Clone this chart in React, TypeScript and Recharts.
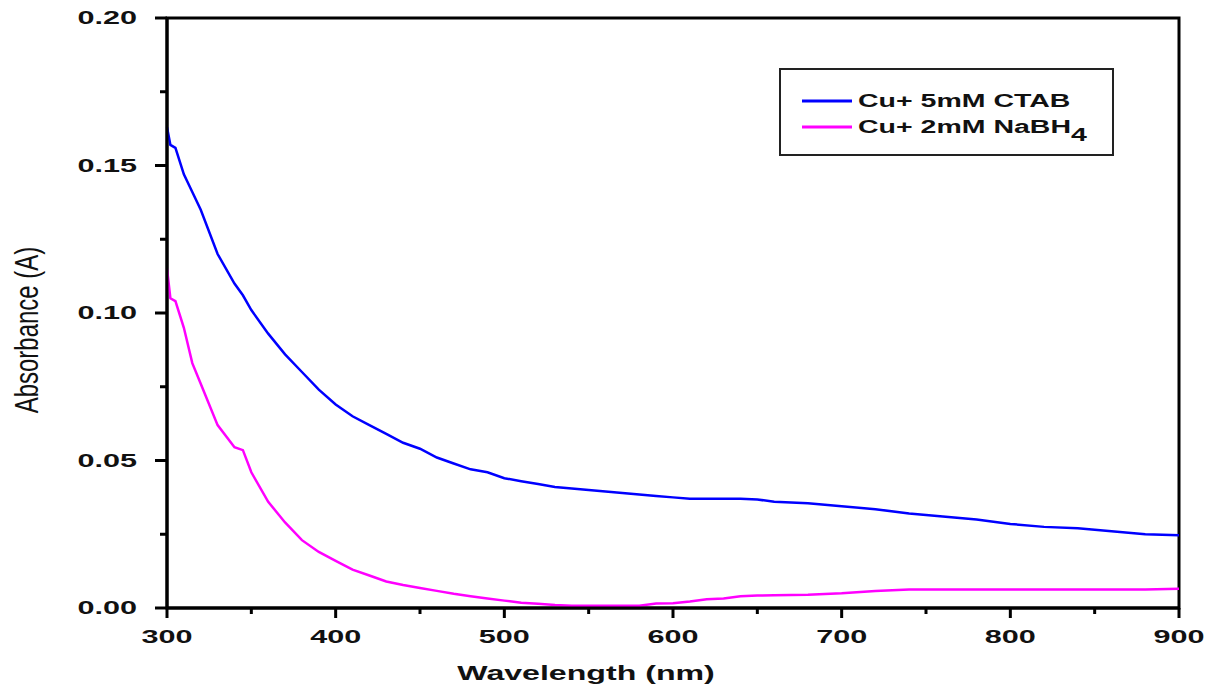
import { LineChart, Line, XAxis, YAxis, Legend, ReferenceArea } from "recharts";

// wavelength grid (nm)
const wavelengths = [
  300, 302, 305, 310, 315, 320, 330, 340, 345, 350,
  360, 370, 380, 390, 400, 410, 420, 430, 440, 450,
  460, 470, 480, 490, 500, 510, 520, 530, 540, 550,
  560, 570, 580, 590, 600, 610, 620, 630, 640, 650,
  660, 680, 700, 720, 740, 760, 780, 800, 820, 840,
  860, 880, 900,
];

// Cu + 5mM CTAB
const ctabAbs = [
  0.163, 0.157, 0.156, 0.147, 0.141, 0.135, 0.12, 0.11, 0.106, 0.101,
  0.093, 0.086, 0.08, 0.074, 0.069, 0.065, 0.062, 0.059, 0.056, 0.054,
  0.051, 0.049, 0.047, 0.046, 0.044, 0.043, 0.042, 0.041, 0.0405, 0.04,
  0.0395, 0.039, 0.0385, 0.038, 0.0375, 0.037, 0.037, 0.037, 0.037, 0.0368,
  0.036, 0.0355, 0.0345, 0.0335, 0.032, 0.031, 0.03, 0.0285, 0.0275, 0.027,
  0.026, 0.025, 0.0247,
];

// Cu + 2mM NaBH4
const nabh4Abs = [
  0.115, 0.105, 0.104, 0.095, 0.083, 0.076, 0.062, 0.0545, 0.0535, 0.046,
  0.036, 0.029, 0.023, 0.019, 0.016, 0.013, 0.011, 0.009, 0.0078, 0.0068,
  0.0058, 0.0048, 0.004, 0.0032, 0.0025, 0.0018, 0.0014, 0.001, 0.0008, 0.0008,
  0.0008, 0.0008, 0.0008, 0.0015, 0.0016, 0.0022, 0.003, 0.0032, 0.004, 0.0042,
  0.0043, 0.0045, 0.005, 0.0058, 0.0063, 0.0063, 0.0063, 0.0063, 0.0063, 0.0063,
  0.0063, 0.0063, 0.0065,
];

const seriesKeys = ["ctab", "nabh4"];
const xTicks = [300, 350, 400, 450, 500, 550, 600, 650, 700, 750, 800, 850, 900];
const xLabels = [300, 400, 500, 600, 700, 800, 900];
const yTicks = [0, 0.025, 0.05, 0.075, 0.1, 0.125, 0.15, 0.175, 0.2];
const yLabels = ["0.00", "0.05", "0.10", "0.15", "0.20"];

const data = wavelengths.map((nm, i) => ({ nm, ctab: ctabAbs[i], nabh4: nabh4Abs[i] }));

const FONT = "'Liberation Sans', Arial, sans-serif";
const PLOT_LEFT = 167;
const PLOT_BOTTOM = 608;

function XTick({ x, payload }: any) {
  const major = xLabels.includes(payload.value);
  return (
    <g>
      <line x1={x} y1={PLOT_BOTTOM} x2={x} y2={PLOT_BOTTOM + (major ? 10 : 6)} stroke="#000" strokeWidth={3} />
      {major && (
        <text
          transform={`translate(${x},${637}) scale(1.7,1)`}
          textAnchor="middle"
          dy="0.35em"
          fontFamily={FONT}
          fontWeight="bold"
          fontSize={18}
          fill="#111"
        >
          {payload.value}
        </text>
      )}
    </g>
  );
}

function YTick({ y, payload }: any) {
  const label = yLabels.find((l) => Math.abs(parseFloat(l) - payload.value) < 1e-6);
  return (
    <g>
      <line x1={PLOT_LEFT} y1={y} x2={PLOT_LEFT - (label ? 12 : 7)} y2={y} stroke="#000" strokeWidth={3} />
      {label && (
        <text
          transform={`translate(${137},${y}) scale(1.7,1)`}
          textAnchor="end"
          dy="0.35em"
          fontFamily={FONT}
          fontWeight="bold"
          fontSize={18}
          fill="#111"
        >
          {label}
        </text>
      )}
    </g>
  );
}

function LegendBox({ payload }: any) {
  const rows = [...(payload || [])].sort(
    (a: any, b: any) => seriesKeys.indexOf(a.dataKey) - seriesKeys.indexOf(b.dataKey)
  );
  return (
    <svg width={336} height={89}>
      <rect x={1} y={1} width={333} height={86} fill="#fff" stroke="#222" strokeWidth={2} />
      {rows.map((entry: any, i: number) => {
        const ly = 33 + i * 26;
        return (
          <g key={entry.dataKey}>
            <line x1={23} y1={ly} x2={73} y2={ly} stroke={entry.color} strokeWidth={3} />
            <text
              transform={`translate(79,${ly}) scale(1.5,1)`}
              dy="0.3em"
              fontFamily={FONT}
              fontWeight="bold"
              fontSize={19}
              fill="#111"
            >
              {entry.dataKey === "nabh4" ? (
                <>
                  Cu+ 2mM NaBH<tspan dy={8}>4</tspan>
                </>
              ) : (
                entry.value
              )}
            </text>
          </g>
        );
      })}
    </svg>
  );
}

export default function App() {
  return (
    <div style={{ position: "absolute", left: 0, top: 0, background: "#fff" }}>
      <LineChart width={1217} height={692} data={data} margin={{ top: 18, right: 38, bottom: 24, left: 67 }}>
        <XAxis
          dataKey="nm"
          type="number"
          domain={[300, 900]}
          ticks={xTicks}
          tick={<XTick />}
          tickLine={false}
          axisLine={{ stroke: "#000", strokeWidth: 3 }}
          height={60}
          interval={0}
          label={{
            content: () => (
              <text
                transform="translate(586,673) scale(1.53,1)"
                textAnchor="middle"
                dy="0.35em"
                fontFamily={FONT}
                fontWeight="bold"
                fontSize={21}
                fill="#111"
              >
                Wavelength (nm)
              </text>
            ),
          }}
        />
        <YAxis
          type="number"
          domain={[0, 0.2]}
          ticks={yTicks}
          tick={<YTick />}
          tickLine={false}
          axisLine={{ stroke: "#000", strokeWidth: 3 }}
          width={100}
          interval={0}
          label={{
            content: () => (
              <text
                transform="translate(27,330) scale(1.35,1) rotate(-90)"
                textAnchor="middle"
                dy="0.35em"
                fontFamily={FONT}
                fontSize={24}
                fill="#111"
              >
                Absorbance (A)
              </text>
            ),
          }}
        />

        {/* plot frame */}
        <ReferenceArea x1={300} x2={900} y1={0} y2={0.2} fill="none" fillOpacity={0} stroke="#000" strokeWidth={3} />

        <Line
          type="linear"
          dataKey="ctab"
          name="Cu+ 5mM CTAB"
          stroke="#0000ff"
          strokeWidth={2.5}
          dot={false}
          isAnimationActive={false}
        />
        <Line
          type="linear"
          dataKey="nabh4"
          name="Cu+ 2mM NaBH4"
          stroke="#ff00ff"
          strokeWidth={2.5}
          dot={false}
          isAnimationActive={false}
        />

        <Legend
          layout="horizontal"
          align="center"
          verticalAlign="middle"
          content={<LegendBox />}
          wrapperStyle={{ left: 779, top: 68, width: 336, height: 89 }}
        />
      </LineChart>
    </div>
  );
}
